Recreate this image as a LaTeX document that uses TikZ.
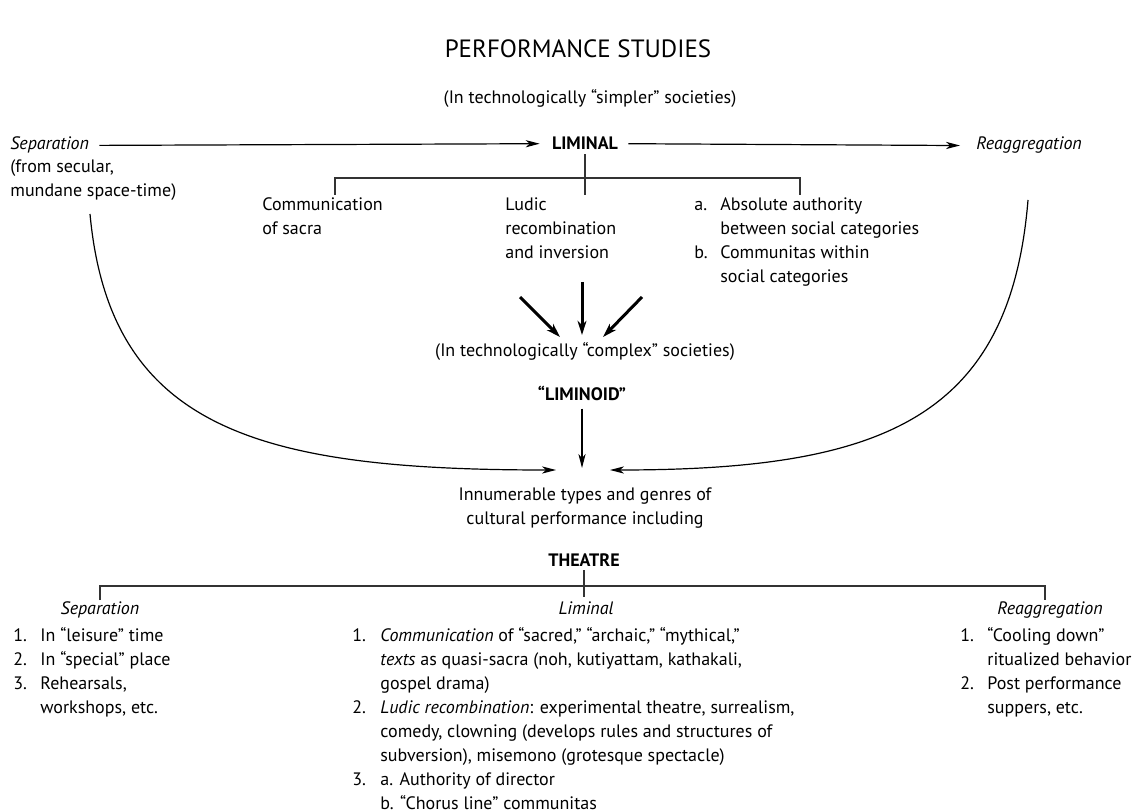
\documentclass[tikz,border=0pt]{standalone}
\usepackage{fontspec}
\setmainfont{PT Sans}
\usepackage{tikz}
\usetikzlibrary{arrows.meta}
\usetikzlibrary{calc}

\begin{document}
\begin{tikzpicture}[x=0.5pt,y=-0.5pt,
  txt/.style={inner sep=0pt,anchor=base,font=\fontsize{9}{12}\selectfont},
  itx/.style={txt,font=\fontsize{9}{12}\selectfont\itshape},
  hd/.style={txt,font=\fontsize{9}{12}\selectfont\bfseries},
  ttl/.style={inner sep=0pt,anchor=base,font=\fontsize{12.5}{15}\selectfont},
  thin/.style={line width=0.6pt},
  arr/.style={thin,-{Stealth[length=7pt,width=3.6pt,inset=2pt]}},
  fat/.style={line width=1.5pt,-{Stealth[length=7pt,width=4.4pt,inset=2pt]}},
  brk/.style={line width=0.8pt,black!80}]
\useasboundingbox (0,0) rectangle (1144,812);
\fill[white] (0,0) rectangle (1144,812);

% Drawing headings
\node[ttl] (title) at (578,58) {PERFORMANCE STUDIES};
\node[txt] (simpler) at (590,104) {(In technologically “simpler” societies)};

% Top row
\node[itx,anchor=base west] (sepTop) at (10,150) {Separation};
\node[hd] (liminal) at (585,150) {LIMINAL};
\node[itx,anchor=base west] (reaggTop) at (976,150) {Reaggregation};
\node[txt,anchor=base west] (sepNote) at (10,173) {\begin{tabular}[t]{@{}l@{}}(from secular,\\mundane space-time)\end{tabular}};
\draw[arr] ([xshift=5pt]sepTop.east) -- ([xshift=-6pt]liminal.west);
\draw[arr] ([xshift=5pt]liminal.east) -- ([xshift=-8pt]reaggTop.west);

% Liminal branches
\node[txt,anchor=base west] (commSacra) at (262,211) {\begin{tabular}[t]{@{}l@{}}Communication\\of sacra\end{tabular}};
\node[txt,anchor=base west] (ludic) at (505,211) {\begin{tabular}[t]{@{}l@{}}Ludic\\recombination\\and inversion\end{tabular}};
\node[txt,anchor=base west] (authority) at (694,211) {\begin{tabular}[t]{@{}p{13pt}@{}l@{}}a.&Absolute authority\\&between social categories\\b.&Communitas within\\&social categories\end{tabular}};
\coordinate (brL) at (335,178);
\coordinate (brR) at (800,178);
\draw[brk] ([yshift=-2pt]liminal.south) -- (liminal.south |- 0,195);
\draw[brk] (brL |- 0,195) -- (brL) -- (brR) -- (brR |- 0,195);

% Arrows into the liminoid
\node[txt] (complex) at (585,357) {(In technologically “complex” societies)};
\node[hd] (liminoid) at (582,400) {“LIMINOID”};
\coordinate (fatL) at (520,297);
\coordinate (fatM) at (582,282);
\coordinate (fatR) at (642,297);
\draw[fat] (fatL) -- (560,337);
\draw[fat] (fatM) -- (582,335);
\draw[fat] (fatR) -- (603,337);

% Cultural performance
\node[txt] (innumerable) at (585,500) {\begin{tabular}[t]{@{}c@{}}Innumerable types and genres of\\cultural performance including\end{tabular}};
\coordinate (tipL) at (556,470);
\coordinate (tipR) at (610,470);
\draw[arr] ([yshift=-4pt]liminoid.south) -- (582,468);
\draw[arr] (90,214) .. controls (110,430) and (260,470) .. (tipL);
\draw[arr] (1028,200) .. controls (1010,420) and (880,470) .. (tipR);

% Theatre bracket
\node[hd] (theatre) at (584,566) {THEATRE};
\node[itx] (sepBot) at (100,614) {Separation};
\node[itx] (liminalBot) at (586,614) {Liminal};
\node[itx] (reaggBot) at (1050,614) {Reaggregation};
\draw[brk] ([yshift=-2pt]theatre.south) -- (theatre.south |- 0,597);
\draw[brk] (sepBot.north |- 0,600) -- (sepBot.north |- 0,586) -- (1045,586) -- (1045,600);

% Lists
\node[txt,anchor=base west] (sepList) at (13,641) {\begin{tabular}[t]{@{}p{13.5pt}@{}l@{}}1.&In “leisure” time\\2.&In “special” place\\3.&Rehearsals,\\&workshops, etc.\end{tabular}};
\node[txt,anchor=base west] (liminalList) at (352,641) {\begin{tabular}[t]{@{}p{14pt}@{}l@{}}1.&\textit{Communication} of “sacred,” “archaic,” “mythical,”\\&\textit{texts} as quasi-sacra (noh, kutiyattam, kathakali,\\&gospel drama)\\2.&\textit{Ludic recombination}: experimental theatre, surrealism,\\&comedy, clowning (develops rules and structures of\\&subversion), misemono (grotesque spectacle)\\3.&a. Authority of director\\&b. “Chorus line” communitas\end{tabular}};
\node[txt,anchor=base west] (reaggList) at (960,641) {\begin{tabular}[t]{@{}p{13.5pt}@{}l@{}}1.&“Cooling down”\\&ritualized behavior\\2.&Post performance\\&suppers, etc.\end{tabular}};
\end{tikzpicture}
\end{document}
